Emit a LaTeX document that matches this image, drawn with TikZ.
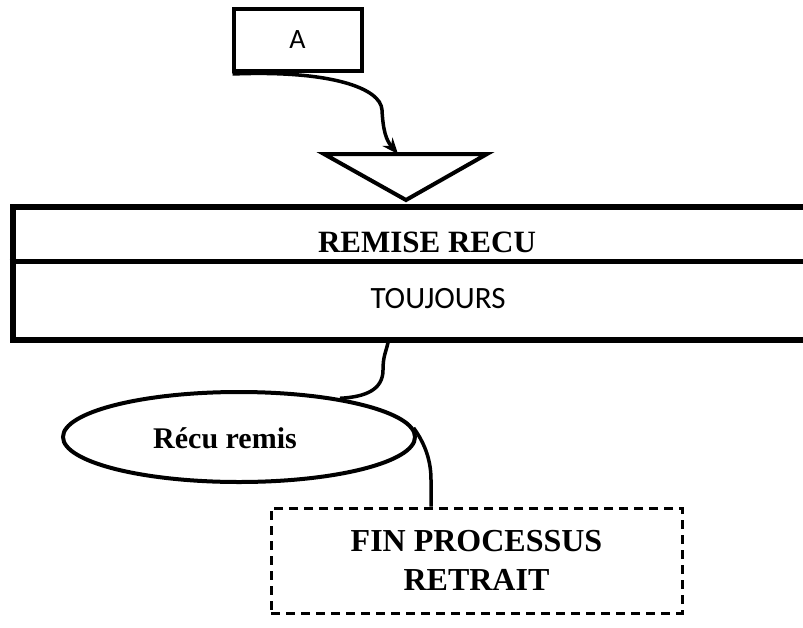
\documentclass[tikz,border=0pt]{standalone}
\usepackage{fontspec}
\setmainfont{Liberation Serif}
\newfontfamily\calibri{Carlito}
\usetikzlibrary{shapes.geometric,arrows.meta}
\begin{document}
\begin{tikzpicture}[x=1pt,y=-1pt,
  boxA/.style={draw,line width=4pt,minimum width=128pt,minimum height=62pt,inner sep=0pt,font=\calibri\fontsize{28}{32}\selectfont},
  procbox/.style={draw,line width=6pt,minimum width=830pt,minimum height=133pt,inner sep=0pt,anchor=north west},
  evt/.style={draw,ellipse,line width=4pt,minimum width=352pt,minimum height=90pt,inner sep=0pt},
  finbox/.style={draw,dash pattern=on 9pt off 6pt,line width=3pt,minimum width=411pt,minimum height=105pt,inner sep=0pt,align=center,font=\bfseries\fontsize{32}{39}\selectfont},
  conn/.style={line width=3.5pt},
  serifb/.style={font=\bfseries\fontsize{31}{36}\selectfont,inner sep=0pt},
]
\useasboundingbox (0,0) rectangle (803,627);
% box A
\node[boxA] (A) at (297.5,40) {A};
% triangle
\draw[line width=4pt,line join=miter] (324,154) -- (487,154) -- (406,200) -- cycle;
\coordinate (tri) at (398,154);
% arrow
\draw[conn,-{Stealth[length=16pt,width=13pt]}] ([xshift=1pt,yshift=-1pt]A.south west) .. controls (330,70) and (381,88) .. (382,110) .. controls (383,130) and (386,140) .. (tri);
% process box
\node[procbox] (proc) at (9.5,203.5) {};
\coordinate (divL) at (9.5,261.5);
\coordinate (divR) at (839.5,261.5);
\draw[line width=4.5pt] (divL) -- (divR);
\node[serifb,anchor=base] (rem) at (427,252) {REMISE RECU};
\node[font=\calibri\fontsize{31}{36}\selectfont,inner sep=0pt,anchor=base] (tj) at (438,308) {TOUJOURS};
% event ellipse
\node[evt] (ell) at (239,437) {};
\node[font=\bfseries\fontsize{30}{36}\selectfont,inner sep=0pt,anchor=base] (elltxt) at (225,448) {Récu remis};
% end box
\node[finbox] (fin) at (476.5,560.5) {FIN PROCESSUS\\RETRAIT};
% connectors
\draw[conn] ([xshift=378.5pt]proc.south west) .. controls (386,352) and (383,356) .. (383,370) .. controls (383,390) and (365,397) .. (ell.21);
\draw[conn] (ell.3) .. controls (426,445) and (431,462) .. (431,480) -- ([xshift=-45.5pt]fin.north);
\end{tikzpicture}
\end{document}
